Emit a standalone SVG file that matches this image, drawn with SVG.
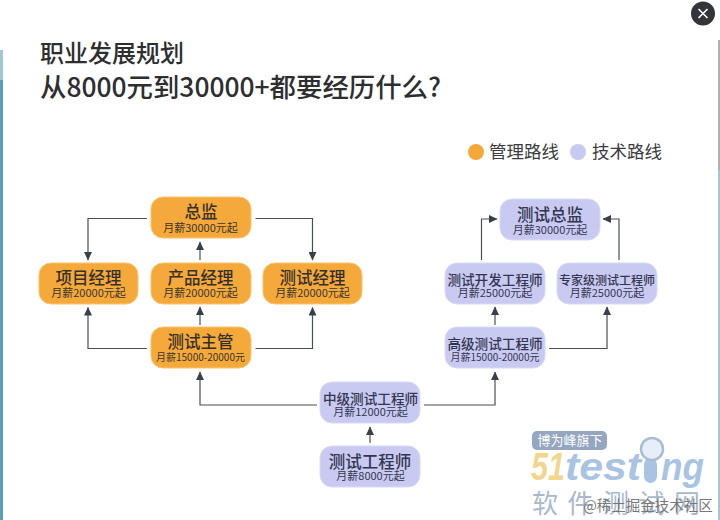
<svg xmlns="http://www.w3.org/2000/svg" width="720" height="520" viewBox="0 0 720 520">
<style>
text{font-family:"Noto Sans CJK SC","Liberation Sans",sans-serif;text-anchor:middle}
.o rect{fill:#f5a93a;stroke:#fbc46e;stroke-width:1}
.b rect{fill:#c9caf1;stroke:#d8d9f6;stroke-width:1}
.t{font-size:16.500px;font-weight:500;fill:#36302a}
.m{font-size:13.600px}
.s{font-size:11px;fill:#3a3530}
.r{font-size:10px}
.b .t,.b .s{fill:#333650}
.c path{fill:none;stroke:#4a4f55;stroke-width:1.200}
.h{font-weight:500;fill:#2e2e30;text-anchor:start}
.l{font-size:17.500px;fill:#3c3c40}
.w{font-family:"Liberation Sans",sans-serif;font-weight:700;font-style:italic;text-anchor:start}
</style>
<defs><marker id="a" markerWidth="9" markerHeight="8" refX="8" refY="4" orient="auto" markerUnits="userSpaceOnUse"><path d="M0 0L8.500 4L0 8z" fill="#3a4048"/></marker></defs>
<rect width="720" height="520" fill="#fff"/>
<rect x="0" y="50" width="3" height="30" fill="#9cc9d2"/>
<rect x="0" y="80" width="3" height="440" fill="#5a9fb5"/>
<rect x="718" y="40" width="2" height="130" fill="#b0b0b0"/>
<rect x="718" y="170" width="2" height="350" fill="#a9c4d0"/>
<g id="close"><circle cx="703" cy="13.500" r="12" fill="#33353a"/><path d="M698.500 9L707.500 18M707.500 9L698.500 18" stroke="#fff" stroke-width="1.600"/></g>
<g id="title"><text class="h" x="40" y="62" font-size="24">职业发展规划</text>
<text class="h" x="40" y="97" font-size="26.400">从8000元到30000+都要经历什么?</text></g>
<g id="legend"><circle cx="476" cy="152" r="8" fill="#f5a93a"/><text class="l" x="524" y="158">管理路线</text>
<circle cx="578" cy="152" r="8" fill="#c9caf1"/><text class="l" x="627" y="158">技术路线</text></g>
<g class="c">
<path d="M147 218.500H88V260" marker-end="url(#a)"/>
<path d="M255.500 218.500H312.500V260" marker-end="url(#a)"/>
<path d="M200 260V242" marker-end="url(#a)"/>
<path d="M200 325V307" marker-end="url(#a)"/>
<path d="M147 348.500H88V307.500" marker-end="url(#a)"/>
<path d="M255.500 348.500H312.500V307.500" marker-end="url(#a)"/>
<path d="M317 405H200V372" marker-end="url(#a)"/>
<path d="M424 405H495V372" marker-end="url(#a)"/>
<path d="M370 443V427" marker-end="url(#a)"/>
<path d="M495 325V307" marker-end="url(#a)"/>
<path d="M549 348.500H607V307" marker-end="url(#a)"/>
<path d="M481.500 260V219H497" marker-end="url(#a)"/>
<path d="M619 260V219H603" marker-end="url(#a)"/>
</g>
<g id="n1" class="o"><rect x="151" y="197" width="100" height="41" rx="12"/><text class="t" x="201" y="218" letter-spacing="0">总监</text><text class="s" x="200.500" y="232">月薪30000元起</text></g>
<g id="n2" class="o"><rect x="39" y="263" width="99" height="41" rx="12"/><text class="t" x="88.500" y="284">项目经理</text><text class="s" x="88.500" y="297">月薪20000元起</text></g>
<g id="n3" class="o"><rect x="151" y="263" width="100" height="41" rx="12"/><text class="t" x="200.500" y="284">产品经理</text><text class="s" x="200.500" y="297">月薪20000元起</text></g>
<g id="n4" class="o"><rect x="263" y="263" width="99" height="41" rx="12"/><text class="t" x="312.500" y="284">测试经理</text><text class="s" x="312.500" y="297">月薪20000元起</text></g>
<g id="n5" class="o"><rect x="151" y="327" width="100" height="41" rx="12"/><text class="t" x="200.500" y="348">测试主管</text><text class="s r" x="200.500" y="361">月薪15000-20000元</text></g>
<g id="n6" class="b"><rect x="500" y="199" width="100" height="41" rx="12"/><text class="t" x="550" y="221">测试总监</text><text class="s" x="550" y="234">月薪30000元起</text></g>
<g id="n7" class="b"><rect x="445" y="263" width="100" height="41" rx="12"/><text class="t m" x="495" y="285">测试开发工程师</text><text class="s" x="495" y="297">月薪25000元起</text></g>
<g id="n8" class="b"><rect x="557" y="263" width="100" height="41" rx="12"/><text class="t" x="607" y="285" style="font-size:12px">专家级测试工程师</text><text class="s" x="607" y="297">月薪25000元起</text></g>
<g id="n9" class="b"><rect x="445" y="327" width="100" height="41" rx="12"/><text class="t m" x="495" y="349">高级测试工程师</text><text class="s r" x="495" y="361">月薪15000-20000元</text></g>
<g id="n10" class="b"><rect x="320" y="382" width="100" height="41" rx="12"/><text class="t m" x="370.500" y="404">中级测试工程师</text><text class="s" x="370.500" y="416">月薪12000元起</text></g>
<g id="n11" class="b"><rect x="320" y="446" width="100" height="41" rx="12"/><text class="t" x="370" y="468">测试工程师</text><text class="s" x="370.500" y="480">月薪8000元起</text></g>
<g id="watermark">
<rect x="532" y="431" width="75" height="19" rx="5" fill="#94a6c0"/><text x="570" y="445" font-size="13" fill="#fff">博为峰旗下</text>
<text class="w" x="531" y="480" font-size="38" fill="#f1d68e" textLength="34" lengthAdjust="spacingAndGlyphs">51</text>
<text class="w" x="565" y="480" font-size="38" fill="#a9c4e2" textLength="76" lengthAdjust="spacingAndGlyphs">test</text>
<text class="w" x="661" y="480" font-size="38" fill="#a9c4e2" textLength="43" lengthAdjust="spacingAndGlyphs">ng</text>
<rect x="644" y="458" width="13" height="25" rx="6.500" fill="#a9c4e2"/>
<circle cx="652" cy="449" r="11" fill="#e6eef8" stroke="#a9bcd6" stroke-width="2.500"/>
<text x="532" y="513" font-size="26" fill="#a9b9cd" letter-spacing="9.500" style="text-anchor:start">软件测试网</text>
<text x="648" y="511" font-size="14.500" fill="#77777a">@稀土掘金技术社区</text>
</g>
</svg>
